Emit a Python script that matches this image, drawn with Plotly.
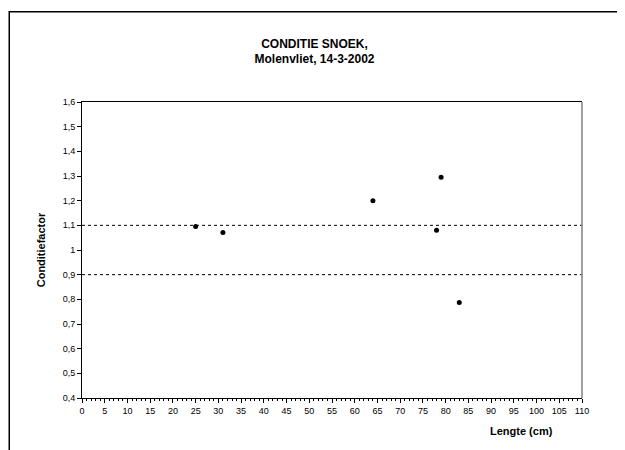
import plotly.graph_objects as go

# Data
lengte = [25, 31, 64, 78, 79, 83]
conditiefactor = [1.095, 1.071, 1.2, 1.08, 1.295, 0.787]
grens_boven = 1.1
grens_onder = 0.9
y_tickvals = [0.4, 0.5, 0.6, 0.7, 0.8, 0.9, 1.0, 1.1, 1.2, 1.3, 1.4, 1.5, 1.6]
y_ticktext = ["0,4", "0,5", "0,6", "0,7", "0,8", "0,9", "1", "1,1", "1,2", "1,3", "1,4", "1,5", "1,6"]
x_tickvals = list(range(0, 111, 5))
x_ticktext = [str(v) for v in x_tickvals]

FONT = "Liberation Sans, Arial, sans-serif"

fig = go.Figure()
fig.add_trace(go.Scatter(
    x=lengte, y=conditiefactor, mode="markers",
    marker=dict(color="black", size=5),
    showlegend=False, hoverinfo="x+y",
))

for g in (grens_boven, grens_onder):
    fig.add_shape(type="line", xref="x", yref="y", x0=0, x1=110, y0=g, y1=g,
                  line=dict(color="black", width=1, dash="dot"))

# right border of plot area (grey)
fig.add_shape(type="line", xref="x domain", yref="y domain", x0=1, x1=1, y0=0, y1=1,
              line=dict(color="#808080", width=1.5))

# outer chart frame
fig.add_shape(type="rect", xref="paper", yref="paper",
              x0=-0.1455, x1=1.0795, y0=-0.25, y1=1.305,
              line=dict(color="black", width=1.5), layer="below")

fig.update_layout(
    width=617, height=442,
    margin=dict(l=74, r=43, t=94, b=52),
    paper_bgcolor="white", plot_bgcolor="white",
    font=dict(family=FONT, color="black", size=9),
    title=dict(
        text="<b>CONDITIE SNOEK,</b><br><b>Molenvliet, 14-3-2002</b>",
        x=0.465, xanchor="center", xref="paper",
        y=1 - 39.5 / 442, yanchor="middle", yref="container",
        font=dict(family=FONT, size=12, color="black"),
    ),
    xaxis=dict(
        range=[0, 110], tickvals=x_tickvals, ticktext=x_ticktext,
        ticks="outside", ticklen=4, tickcolor="black", tickwidth=1,
        minor=dict(dtick=1, ticks="outside", ticklen=2, tickcolor="black"),
        showline=True, linecolor="black", linewidth=1, mirror=True,
        showgrid=False, zeroline=False,
        tickfont=dict(family=FONT, size=9, color="black"),
        title=None,
    ),
    yaxis=dict(
        range=[0.4, 1.6], tickvals=y_tickvals, ticktext=y_ticktext,
        ticks="outside", ticklen=4, tickcolor="black", tickwidth=1,
        showline=True, linecolor="black", linewidth=1, mirror=False,
        showgrid=False, zeroline=False,
        tickfont=dict(family=FONT, size=9, color="black"),
        title=dict(text="<b>Conditiefactor</b>", standoff=14,
                   font=dict(family=FONT, size=11, color="black")),
    ),
)

fig.add_annotation(
    text="<b>Lengte (cm)</b>", xref="paper", yref="paper",
    x=0.879, y=-0.1116, xanchor="center", yanchor="middle",
    showarrow=False, font=dict(family=FONT, size=11, color="black"),
)

fig.write_html("out.html")
